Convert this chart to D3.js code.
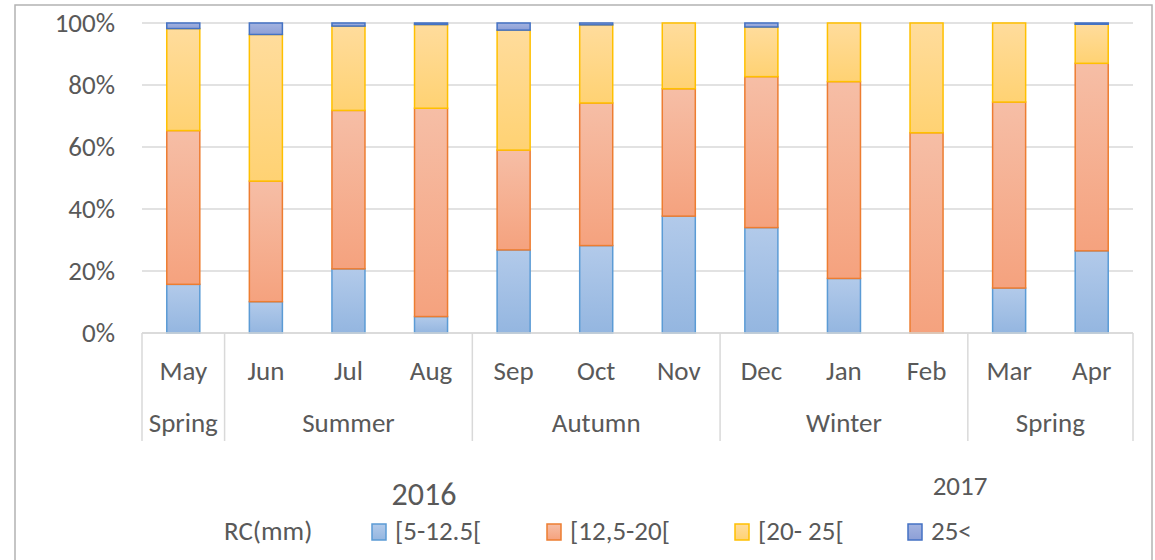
<!DOCTYPE html>
<html>
<head>
<meta charset="utf-8">
<script src="https://cdn.jsdelivr.net/npm/d3@7"></script>
<style>
  body { margin: 0; background: #fff; }
  text { font-family: Carlito, "Liberation Sans", Arial, sans-serif; fill: #595959; }
</style>
</head>
<body>
<div id="chart"></div>
<script>
// data (percent of each month)
const months = ["May", "Jun", "Jul", "Aug", "Sep", "Oct", "Nov", "Dec", "Jan", "Feb", "Mar", "Apr"];
const seasons = ["Spring", "Summer", "Summer", "Summer", "Autumn", "Autumn", "Autumn", "Winter", "Winter", "Winter", "Spring", "Spring"];
const seriesNames = ["[5-12.5[", "[12,5-20[", "[20- 25[", "25<"];
const rc5 = [15.7, 10.1, 20.7, 5.3, 26.8, 28.2, 37.7, 34.0, 17.6, 0, 14.5, 26.5];
const rc12 = [49.6, 38.9, 51.1, 67.2, 32.2, 46.0, 41.1, 48.7, 63.5, 64.6, 60.0, 60.5];
const rc20 = [32.9, 47.3, 27.2, 27.0, 38.7, 25.2, 21.2, 16.0, 18.9, 35.4, 25.5, 12.6];
const rc25 = [1.8, 3.7, 1.0, 0.5, 2.3, 0.6, 0, 1.3, 0, 0, 0, 0.4];
const yTicks = [0, 20, 40, 60, 80, 100];

const W = 1155, H = 560;
const margin = { top: 23, left: 142, right: 22, bottom: 227 };
const width = W - margin.left - margin.right,
  height = H - margin.top - margin.bottom;

// fill gradient (top, bottom) and border per series
const colors = [
  { top: "#b2caea", bot: "#94b6e0", line: "#5b9bd5" },
  { top: "#f6bea6", bot: "#f5a27e", line: "#ed7d31" },
  { top: "#ffdc9c", bot: "#ffd273", line: "#ffc000" },
  { top: "#a3b3e0", bot: "#8d9fd6", line: "#4472c4" }
];

const table = months.map((m, i) => ({ month: m, s0: rc5[i], s1: rc12[i], s2: rc20[i], s3: rc25[i] }));
const keys = ["s0", "s1", "s2", "s3"];
const stacked = d3.stack().keys(keys)(table);

const svg = d3.select("#chart").append("svg")
  .attr("width", W)
  .attr("height", H);

const defs = svg.append("defs");
colors.forEach((c, i) => {
  const g = defs.append("linearGradient")
    .attr("id", "grad" + i)
    .attr("x1", 0).attr("y1", 0).attr("x2", 0).attr("y2", 1);
  g.append("stop").attr("offset", "0%").attr("stop-color", c.top);
  g.append("stop").attr("offset", "100%").attr("stop-color", c.bot);
});

// chart frame
svg.append("rect")
  .attr("x", 15).attr("y", 5)
  .attr("width", 1137).attr("height", 600)
  .attr("fill", "none")
  .attr("stroke", "#b3b3b3")
  .attr("stroke-width", 1.5);

const g = svg.append("g")
  .attr("transform", `translate(${margin.left},${margin.top})`);

const x = d3.scaleBand()
  .domain(months)
  .range([0, width])
  .paddingInner(0.6)
  .paddingOuter(0.3);

const y = d3.scaleLinear()
  .domain([0, 100])
  .range([height, 0]);

// gridlines
g.append("g")
  .selectAll("line")
  .data(yTicks)
  .join("line")
  .attr("x1", 0).attr("x2", width)
  .attr("y1", d => y(d)).attr("y2", d => y(d))
  .attr("stroke", "#d9d9d9")
  .attr("stroke-width", 1.5);

// y axis labels
const yAxis = g.append("g")
  .call(d3.axisLeft(y).tickValues(yTicks).tickFormat(d => d + "%").tickSize(0).tickPadding(27));
yAxis.select(".domain").remove();
yAxis.selectAll("text")
  .style("font-size", "27px")
  .attr("fill", "#595959");

// bars
g.append("g")
  .selectAll("g")
  .data(stacked)
  .join("g")
  .each(function (layer, li) {
    d3.select(this).selectAll("rect")
      .data(layer.filter(d => d[1] - d[0] > 0))
      .join("rect")
      .attr("x", d => x(d.data.month))
      .attr("width", x.bandwidth())
      .attr("y", d => y(d[1]))
      .attr("height", d => y(d[0]) - y(d[1]))
      .attr("fill", `url(#grad${li})`)
      .attr("stroke", colors[li].line)
      .attr("stroke-width", 1.5);
  });

// category axis (months + seasons)
g.append("line")
  .attr("x1", 0).attr("x2", width)
  .attr("y1", height).attr("y2", height)
  .attr("stroke", "#d9d9d9")
  .attr("stroke-width", 1.5);

g.append("g")
  .selectAll("text")
  .data(months)
  .join("text")
  .attr("x", d => x(d) + x.bandwidth() / 2)
  .attr("y", height + 47)
  .attr("text-anchor", "middle")
  .style("font-size", "27px")
  .text(d => d);

// group consecutive seasons
const groups = [];
seasons.forEach((s, i) => {
  const last = groups[groups.length - 1];
  if (last && last.name === s) last.end = i;
  else groups.push({ name: s, start: i, end: i });
});
const step = x.step();
const edge = i => i * step;

const sep = [0].concat(groups.map(gr => edge(gr.end + 1)));
g.append("g")
  .selectAll("line")
  .data(sep)
  .join("line")
  .attr("x1", d => d).attr("x2", d => d)
  .attr("y1", height).attr("y2", height + 108)
  .attr("stroke", "#d9d9d9")
  .attr("stroke-width", 1.5);

g.append("g")
  .selectAll("text")
  .data(groups)
  .join("text")
  .attr("x", d => (edge(d.start) + edge(d.end + 1)) / 2)
  .attr("y", height + 99)
  .attr("text-anchor", "middle")
  .style("font-size", "27px")
  .text(d => d.name);

// year labels
svg.append("text")
  .attr("x", 424).attr("y", 505)
  .attr("text-anchor", "middle")
  .style("font-size", "32px")
  .text("2016");

svg.append("text")
  .attr("x", 960).attr("y", 495)
  .attr("text-anchor", "middle")
  .style("font-size", "27px")
  .text("2017");

// legend
const legend = svg.append("g").attr("transform", "translate(0,540)");
legend.append("text")
  .attr("x", 224).attr("y", 0)
  .style("font-size", "27px")
  .text("RC(mm)");

const legendX = [372, 547, 735, 908];
seriesNames.forEach((name, i) => {
  legend.append("rect")
    .attr("x", legendX[i]).attr("y", -16)
    .attr("width", 14).attr("height", 16)
    .attr("fill", `url(#grad${i})`)
    .attr("stroke", colors[i].line)
    .attr("stroke-width", 1.5);
  legend.append("text")
    .attr("x", legendX[i] + 23).attr("y", 0)
    .style("font-size", "27px")
    .text(name);
});
</script>
</body>
</html>
